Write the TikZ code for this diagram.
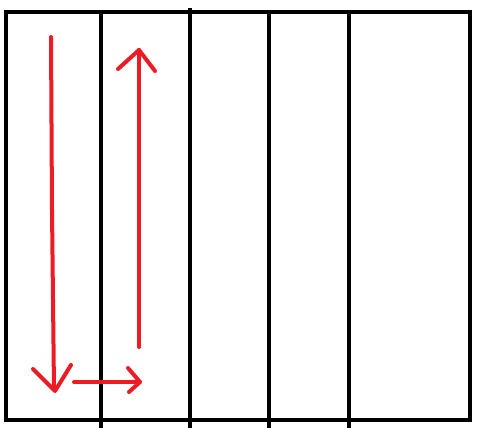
\documentclass[tikz,border=0pt]{standalone}
\usepackage{tikz}
\definecolor{paintred}{RGB}{237,28,36}

\begin{document}
\begin{tikzpicture}[x=1pt,y=-1pt,
    wall/.style={line width=4pt},
    trail/.style={line width=4pt,paintred,line cap=round,line join=round}]
        \useasboundingbox (0,0) rectangle (483,428);
        % frame and strips
        \draw[wall] (6,12) rectangle (470,420);
        \foreach \x/\top in {101/12,190/8,269/12,349/12} {%
            \draw[wall] (\x,\top) -- (\x,428);
        }
        % path down, across, up
        \draw[trail] (51,37) -- (52,210) -- (54,389);
        \draw[trail] (33,369) -- (55,391) -- (71,365);
        \draw[trail] (74,382) -- (140,382);
        \draw[trail] (128,368) -- (140,382) -- (129,392);
        \draw[trail] (139,347) -- (139,50);
        \draw[trail] (118,69) -- (139,50) -- (155,71);
    \end{tikzpicture}
\end{document}
